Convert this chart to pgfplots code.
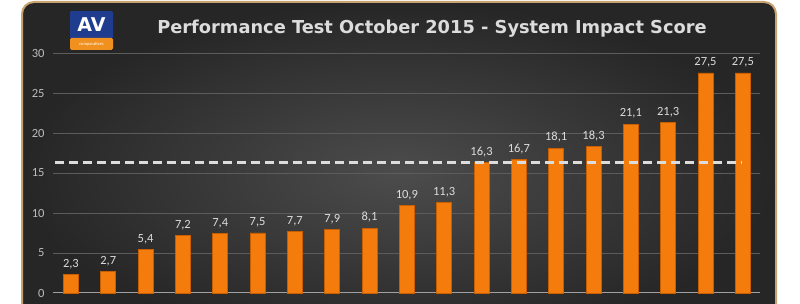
\documentclass[border=0pt]{standalone}
\usepackage{pgfplots}
\pgfplotsset{compat=1.18}
\usepackage{fontspec}
\setmainfont{Carlito}
\newfontfamily\titlefont{DejaVu Sans}
\definecolor{bgin}{HTML}{4C4C4C}
\definecolor{bgout}{HTML}{262626}
\definecolor{frame}{HTML}{C9A272}
\definecolor{barfill}{HTML}{F47C0C}
\definecolor{baredge}{HTML}{C85E00}
\definecolor{barcap}{HTML}{FFB347}
\definecolor{lbl}{HTML}{DCDCDC}
\definecolor{tick}{HTML}{BDBDBD}
\definecolor{grid}{HTML}{5C5C5C}
\definecolor{avblue}{HTML}{1F3C8E}
\definecolor{avorange}{HTML}{F0901E}
\begin{document}
\begin{tikzpicture}[x=1pt,y=1pt]
\useasboundingbox (0,0) rectangle (800,304);
\clip (0,0) rectangle (800,304);
\fill[white] (0,0) rectangle (800,304);
\shade[inner color=bgin, outer color=bgout, rounded corners=12pt] (22,302) rectangle (776,-40);
\draw[frame, line width=2pt, rounded corners=12pt] (22,302) rectangle (776,-40);
% logo
\fill[avblue, rounded corners=1.5pt] (70,293) rectangle (113,265);
\fill[avorange, rounded corners=1.5pt] (70,266) rectangle (113,254);
\node[text=white, font=\titlefont\bfseries\fontsize{19}{19}\selectfont] at (91.5,279.5) {AV};
\node[text=white, font=\fontsize{4.5}{5}\selectfont] at (91.5,260) {comparatives};
% title
\node[text=lbl, font=\titlefont\bfseries\fontsize{17.8}{20}\selectfont] at (432,275) {Performance Test October 2015 - System Impact Score};
\begin{axis}[
  at={(53pt,11pt)}, anchor=south west,
  scale only axis, width=707pt, height=240pt,
  xmin=-0.48, xmax=18.46, ymin=0, ymax=30,
  axis line style={draw=none},
  xtick=\empty,
  ytick={5,10,...,30},
  extra y ticks={0},
  extra y tick style={grid style={color=tick!85!black, line width=1pt}},
  ymajorgrids, grid style={color=grid, line width=0.6pt},
  major tick length=0pt,
  /pgf/number format/assume math mode=true,
  yticklabel style={font=\fontsize{12.5}{12}\selectfont, text=tick, xshift=-5pt},
  bar width=15pt,
  clip=false,
]
\addplot[ybar, fill=barfill, draw=baredge, line width=0.8pt,
  nodes near coords={\pgfmathprintnumber[fixed,precision=1,use comma,fixed zerofill]{\pgfplotspointmeta}},
  every node near coord/.append style={font=\fontsize{12.5}{12}\selectfont, text=lbl, yshift=2pt}]
coordinates {(0,2.3) (1,2.7) (2,5.4) (3,7.2) (4,7.4) (5,7.5) (6,7.7) (7,7.9) (8,8.1) (9,10.9) (10,11.3) (11,16.3) (12,16.7) (13,18.1) (14,18.3) (15,21.1) (16,21.3) (17,27.5) (18,27.5)};
\addplot[color=lbl, line width=2.5pt, dash pattern=on 9pt off 5pt] coordinates {(-0.43,16.3) (17.97,16.3)};
\end{axis}
\end{tikzpicture}
\end{document}
